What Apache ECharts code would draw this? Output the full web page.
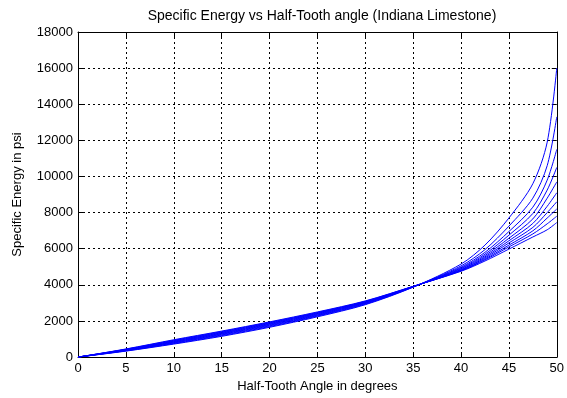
<!DOCTYPE html>
<html>
<head>
<meta charset="utf-8">
<script src="https://cdn.jsdelivr.net/npm/echarts@6/dist/echarts.min.js"></script>
<style>
  html, body { margin: 0; padding: 0; background: #fff; }
  #chart { width: 567px; height: 398px; }
</style>
</head>
<body>
<div id="chart"></div>
<script>
// half-tooth angle samples (degrees)
const angles = [0, 5, 10, 15, 20, 25, 30, 35, 40, 42.5, 45, 47.5, 49, 50];

// specific energy (psi), one list per curve
const curve1 = [0, 330, 720, 1150, 1650, 2230, 2900, 3870, 5150, 6200, 7700, 9600, 11900, 16000];
const curve2 = [0, 345, 750, 1190, 1690, 2270, 2930, 3880, 5050, 5950, 7250, 8800, 10600, 13300];
const curve3 = [0, 360, 780, 1225, 1730, 2300, 2960, 3885, 4980, 5800, 6950, 8300, 9800, 11500];
const curve4 = [0, 372, 805, 1260, 1765, 2330, 2985, 3890, 4930, 5700, 6750, 7950, 9250, 10500];
const curve5 = [0, 385, 830, 1290, 1800, 2360, 3010, 3895, 4890, 5620, 6580, 7650, 8800, 9700];
const curve6 = [0, 398, 855, 1320, 1830, 2390, 3030, 3900, 4850, 5550, 6440, 7400, 8350, 9100];
const curve7 = [0, 410, 880, 1350, 1860, 2420, 3050, 3905, 4820, 5490, 6320, 7180, 8000, 8600];
const curve8 = [0, 423, 905, 1380, 1890, 2445, 3070, 3910, 4795, 5430, 6200, 6990, 7700, 8200];
const curve9 = [0, 436, 930, 1410, 1920, 2470, 3090, 3915, 4775, 5380, 6100, 6820, 7380, 7800];
const curve10 = [0, 450, 960, 1440, 1950, 2500, 3110, 3920, 4750, 5320, 5980, 6650, 7050, 7450];

const curves = [curve1, curve2, curve3, curve4, curve5, curve6, curve7, curve8, curve9, curve10];

const chart = echarts.init(document.getElementById('chart'));

const font = 'Liberation Sans, Arial, sans-serif';
const dashed = { show: true, lineStyle: { color: '#000', type: [2, 3], width: 1 } };

const baseX = {
  type: 'value',
  min: 0,
  max: 50,
  interval: 5,
  axisLine: { show: true, onZero: false, lineStyle: { color: '#000', width: 1 } },
  axisTick: { show: true, inside: true, length: 5, lineStyle: { color: '#000' } },
  splitLine: { show: false }
};
const baseY = {
  type: 'value',
  min: 0,
  max: 18000,
  interval: 2000,
  axisLine: { show: true, onZero: false, lineStyle: { color: '#000', width: 1 } },
  axisTick: { show: true, inside: true, length: 5, lineStyle: { color: '#000' } },
  splitLine: { show: false }
};

const option = {
  backgroundColor: '#fff',
  animation: false,
  title: {
    text: 'Specific Energy vs Half-Tooth angle (Indiana Limestone)',
    left: 317,
    textAlign: 'center',
    top: 4,
    textStyle: { color: '#000', fontSize: 14, fontWeight: 'normal', fontFamily: font }
  },
  grid: { left: 78, right: 10, top: 32, bottom: 36 },
  xAxis: [
    Object.assign({}, baseX, {
      position: 'bottom',
      name: 'Half-Tooth Angle in degrees',
      nameLocation: 'middle',
      nameGap: 19,
      nameTextStyle: { color: '#000', fontSize: 13, fontFamily: font },
      axisLabel: { color: '#000', fontSize: 13, fontFamily: font, margin: 5 },
      splitLine: dashed
    }),
    Object.assign({}, baseX, { position: 'top', axisLabel: { show: false } })
  ],
  yAxis: [
    Object.assign({}, baseY, {
      position: 'left',
      name: 'Specific Energy in psi',
      nameLocation: 'middle',
      nameGap: 54,
      nameTextStyle: { color: '#000', fontSize: 13, fontFamily: font },
      axisLabel: { color: '#000', fontSize: 13, fontFamily: font, margin: 5, formatter: v => String(v) },
      splitLine: dashed
    }),
    Object.assign({}, baseY, { position: 'right', axisLabel: { show: false } })
  ],
  series: curves.map((c, i) => ({
    name: 'curve' + (i + 1),
    type: 'line',
    xAxisIndex: 0,
    yAxisIndex: 0,
    smooth: 0.3,
    showSymbol: false,
    silent: true,
    lineStyle: { color: '#0000ff', width: 1 },
    data: angles.map((a, j) => [a, c[j]])
  }))
};

chart.setOption(option);
</script>
</body>
</html>
